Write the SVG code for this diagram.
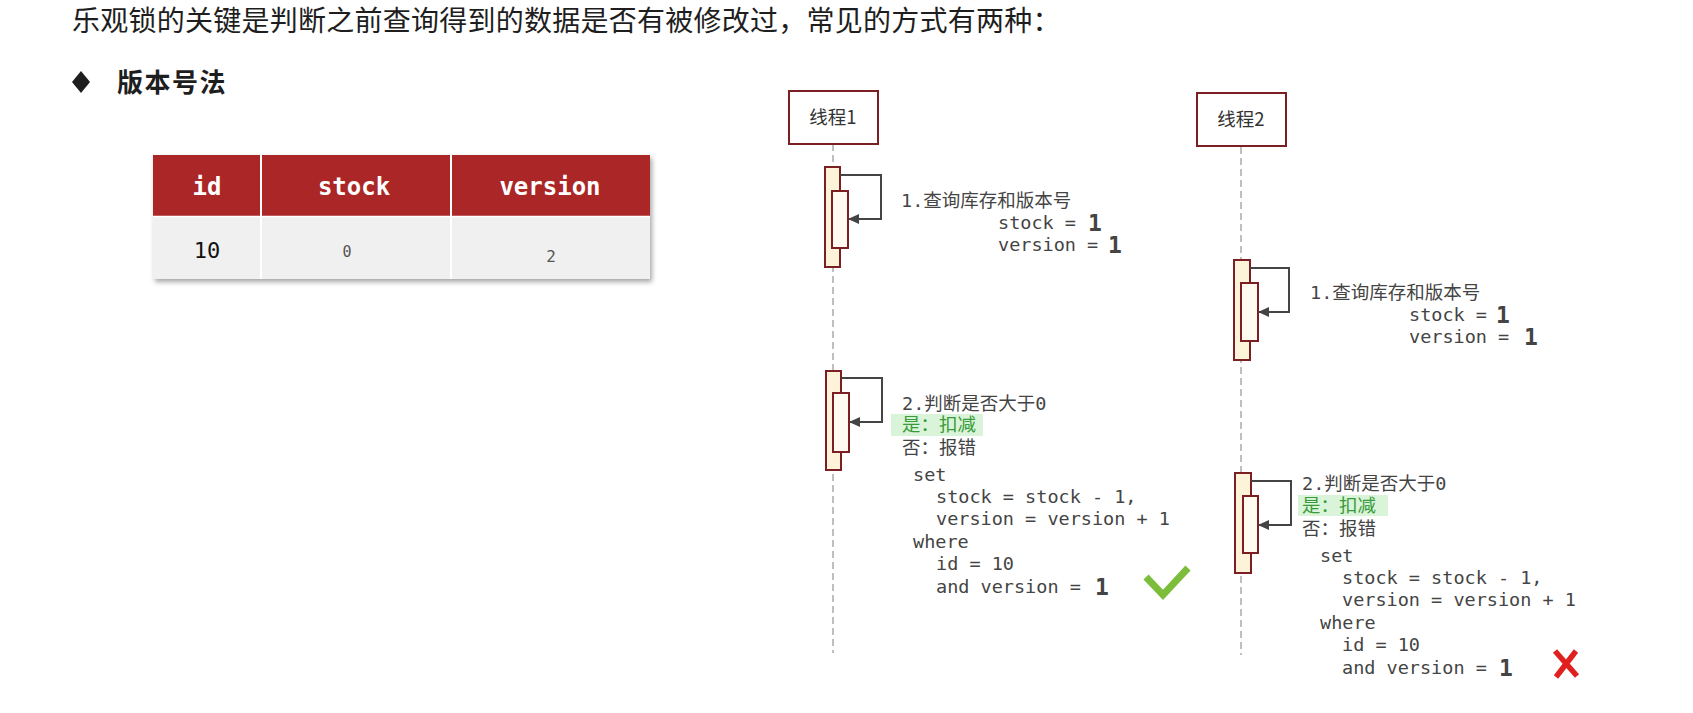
<svg xmlns="http://www.w3.org/2000/svg" width="1693" height="713" viewBox="0 0 1693 713">
<defs>
<style>
.title{font-family:"Noto Sans CJK SC","Noto Sans",sans-serif;font-size:28px;fill:#1e1e1e;letter-spacing:0.25px}
.h2{font-family:"Noto Sans CJK SC","Noto Sans",sans-serif;font-size:26px;font-weight:bold;fill:#1e1e1e;letter-spacing:1.5px}
.th{font-family:"DejaVu Sans Mono","Liberation Mono",monospace;font-weight:bold;font-size:24px;fill:#ffffff;text-anchor:middle}
.td{font-family:"DejaVu Sans Mono","Liberation Mono",monospace;text-anchor:middle}
.mono{font-family:"DejaVu Sans Mono","Noto Sans CJK SC",monospace;font-size:18.5px;fill:#444444}
.big{font-family:"DejaVu Sans Mono",monospace;font-weight:bold;font-size:23px;fill:#444444}
.lbl{font-family:"Noto Sans CJK SC","DejaVu Sans",sans-serif;font-size:18.5px;fill:#333333;text-anchor:middle}
.head{fill:#ffffff;stroke:#7b1f22;stroke-width:2}
.act{fill:#fdf3d8;stroke:#7b1f22;stroke-width:2}
.act2{fill:#fffbf0;stroke:#7b1f22;stroke-width:2}
.life{stroke:#aaaaaa;stroke-width:1.5;stroke-dasharray:7 4;fill:none}
.msg{fill:none;stroke:#444444;stroke-width:2}
.hl{fill:#d9f4d9}
.yes{fill:#3a9a3a}
</style>
<marker id="arr" viewBox="0 0 11 10" refX="10" refY="5" markerWidth="11" markerHeight="10" markerUnits="userSpaceOnUse" orient="auto"><path d="M0,0 L11,5 L0,10 z" fill="#444444"/></marker>
<filter id="sh" x="-5%" y="-10%" width="112%" height="130%"><feDropShadow dx="2" dy="3" stdDeviation="2.5" flood-color="#000" flood-opacity="0.35"/></filter>
</defs>
<rect width="1693" height="713" fill="#ffffff"/>

<g id="title">
<text class="title" x="72" y="31">乐观锁的关键是判断之前查询得到的数据是否有被修改过，常见的方式有两种：</text>
</g>
<g id="heading">
<polygon points="81,71 90,82 81,93 72,82" fill="#1e1e1e"/>
<text class="h2" x="117" y="92">版本号法</text>
</g>

<g id="table">
<g filter="url(#sh)">
<rect x="153" y="155" width="497" height="61" fill="#ab2626"/>
<rect x="153" y="216" width="497" height="63" fill="#f0f0f0"/>
</g>
<line x1="261" y1="155" x2="261" y2="279" stroke="#ffffff" stroke-width="2"/>
<line x1="451" y1="155" x2="451" y2="279" stroke="#ffffff" stroke-width="2"/>
<line x1="153" y1="216.5" x2="650" y2="216.5" stroke="#ffffff" stroke-width="1.5"/>
<text class="th" x="207" y="195">id</text>
<text class="th" x="354" y="195">stock</text>
<text class="th" x="550" y="195">version</text>
<text class="td" x="207" y="258" font-size="22" fill="#111111">10</text>
<text class="td" x="347" y="257" font-size="15" fill="#555555">0</text>
<text class="td" x="551" y="262" font-size="16" fill="#555555">2</text>
</g>

<g id="lifelines">
<line class="life" x1="833" y1="144" x2="833" y2="653"/>
<line class="life" x1="1241" y1="147" x2="1241" y2="655"/>
</g>

<g id="thread1">
<rect class="head" x="789" y="91" width="89" height="53"/>
<text class="lbl" x="833" y="124">线程1</text>
</g>
<g id="thread2">
<rect class="head" x="1197" y="93" width="89" height="53"/>
<text class="lbl" x="1241" y="126">线程2</text>
</g>

<g id="t1-act1">
<rect class="act" x="825" y="167" width="15" height="100"/>
<rect class="act2" x="832" y="191" width="16" height="57"/>
</g>
<g id="t1-act2">
<rect class="act" x="826" y="371" width="15" height="99"/>
<rect class="act2" x="833" y="393" width="16" height="59"/>
</g>
<g id="t2-act1">
<rect class="act" x="1234" y="260" width="16" height="100"/>
<rect class="act2" x="1241" y="283" width="17" height="58"/>
</g>
<g id="t2-act2">
<rect class="act" x="1235" y="473" width="16" height="100"/>
<rect class="act2" x="1243" y="496" width="15" height="57"/>
</g>

<g id="connectors">
<path class="msg" d="M840,175 H881 V219 H849" marker-end="url(#arr)"/>
<path class="msg" d="M841,378 H882 V422 H850" marker-end="url(#arr)"/>
<path class="msg" d="M1250,268 H1289 V312 H1259" marker-end="url(#arr)"/>
<path class="msg" d="M1251,481 H1291 V525 H1259" marker-end="url(#arr)"/>
</g>

<g id="t1-note1">
<text class="mono" x="901" y="207">1.查询库存和版本号</text>
<text class="mono" x="998" y="229">stock = </text>
<text class="big" x="1088" y="231">1</text>
<text class="mono" x="998" y="251">version = </text>
<text class="big" x="1108" y="253">1</text>
</g>

<g id="t2-note1">
<text class="mono" x="1310" y="299">1.查询库存和版本号</text>
<text class="mono" x="1409" y="321">stock = </text>
<text class="big" x="1496" y="323">1</text>
<text class="mono" x="1409" y="343">version = </text>
<text class="big" x="1524" y="345">1</text>
</g>

<g id="t1-note2">
<text class="mono" x="902" y="410">2.判断是否大于0</text>
<rect class="hl" x="891" y="414" width="92" height="22"/>
<text class="mono yes" x="902" y="431">是：扣减</text>
<text class="mono" x="902" y="454">否：报错</text>
<text class="mono" x="913" y="481">set</text>
<text class="mono" x="936" y="503">stock = stock - 1,</text>
<text class="mono" x="936" y="525">version = version + 1</text>
<text class="mono" x="913" y="548">where</text>
<text class="mono" x="936" y="570">id = 10</text>
<text class="mono" x="936" y="593">and version = </text>
<text class="big" x="1095" y="595">1</text>
</g>
<g id="t1-ok">
<path d="M1146,577 L1163,595 L1188,568" fill="none" stroke="#7dbd3c" stroke-width="7"/>
</g>

<g id="t2-note2">
<text class="mono" x="1302" y="490">2.判断是否大于0</text>
<rect class="hl" x="1298" y="495" width="90" height="21"/>
<text class="mono yes" x="1302" y="512">是：扣减</text>
<text class="mono" x="1302" y="535">否：报错</text>
<text class="mono" x="1320" y="562">set</text>
<text class="mono" x="1342" y="584">stock = stock - 1,</text>
<text class="mono" x="1342" y="606">version = version + 1</text>
<text class="mono" x="1320" y="629">where</text>
<text class="mono" x="1342" y="651">id = 10</text>
<text class="mono" x="1342" y="674">and version = </text>
<text class="big" x="1499" y="676">1</text>
</g>
<g id="t2-fail">
<line x1="1555" y1="651" x2="1577" y2="676" stroke="#e0201f" stroke-width="5.5"/>
<line x1="1576" y1="651" x2="1556" y2="677" stroke="#e0201f" stroke-width="5.5"/>
</g>
</svg>
